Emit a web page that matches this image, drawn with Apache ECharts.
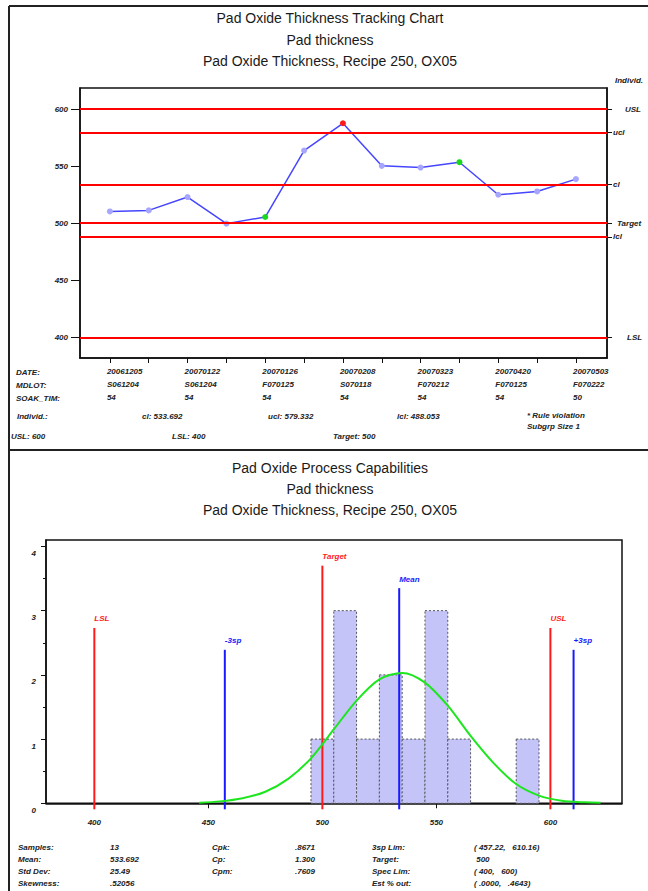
<!DOCTYPE html>
<html>
<head>
<meta charset="utf-8">
<title>Pad Oxide Thickness</title>
<script src="https://cdn.jsdelivr.net/npm/echarts@6/dist/echarts.min.js"></script>
<style>
  html, body { margin: 0; padding: 0; background: #fff; }
  #chart { width: 648px; height: 891px; }
</style>
</head>
<body>
<div id="chart"></div>
<script>
// ---- tracking chart (individuals) ----
var sampleNo = [1, 2, 3, 4, 5, 6, 7, 8, 9, 10, 11, 12, 13];
var thickness = [510.3, 511.2, 522.9, 499.6, 505.4, 563.6, 587.5, 550.2, 548.7, 553.4, 524.9, 527.8, 538.6];
var pointFlag = ['', '', '', '', 'zone', '', 'rule', '', '', 'zone', '', '', ''];
var labelSamples = [1, 3, 5, 7, 9, 11, 13];
var dates = ['20061205', '20070122', '20070126', '20070208', '20070323', '20070420', '20070503'];
var mdlots = ['S061204', 'S061204', 'F070125', 'S070118', 'F070212', 'F070125', 'F070222'];
var soakTimes = ['54', '54', '54', '54', '54', '54', '50'];
var limitNames = ['USL', 'ucl', 'cl', 'Target', 'lcl', 'LSL'];
var limitValues = [600, 579.332, 533.692, 500, 488.053, 400];
var trackTicks = [400, 450, 500, 550, 600];

// ---- capability histogram ----
var binStarts = [495, 505, 515, 525, 535, 545, 555, 565, 575, 585];
var binCounts = [1, 3, 1, 2, 1, 3, 1, 0, 0, 1];
var binWidth = 10;
var curveX = [446, 455, 465, 475, 485, 495, 505, 515, 525, 535, 545, 555, 565, 575, 585, 595, 605, 615, 622];
var curveY = [0.01, 0.03, 0.08, 0.18, 0.38, 0.70, 1.15, 1.60, 1.93, 2.03, 1.88, 1.52, 1.05, 0.63, 0.30, 0.12, 0.04, 0.015, 0.01];
var refNames = ['LSL', '-3sp', 'Target', 'Mean', 'USL', '+3sp'];
var refValues = [400, 457.22, 500, 533.692, 600, 610.16];
var refHeights = [2.73, 2.39, 3.70, 3.35, 2.73, 2.39];
var refKinds = ['spec', 'sigma', 'spec', 'sigma', 'spec', 'sigma'];
var histXTicks = [400, 450, 500, 550, 600];
var histYTicks = [0, 1, 2, 3, 4];
var histYMinor = [0.5, 1.5, 2.5, 3.5];

var statLabels1 = ['Samples:', 'Mean:', 'Std Dev:', 'Skewness:'];
var statValues1 = ['13', '533.692', '25.49', '.52056'];
var statLabels2 = ['Cpk:', 'Cp:', 'Cpm:', ''];
var statValues2 = ['.8671', '1.300', '.7609', ''];
var statLabels3 = ['3sp Lim:', 'Target:', 'Spec Lim:', 'Est % out:'];
var statValues3 = ['( 457.22,   610.16)', ' 500', '( 400,   600)', '( .0000,   .4643)'];

var SMALL = 'italic bold 8px "Liberation Sans Narrow", "Liberation Sans", Arial, sans-serif';
var TITLE = '14px "Liberation Sans", Arial, sans-serif';
var colorMap = { spec: '#ff1a1a', sigma: '#1a1aff' };
var flagColor = { '': '#a6a6ff', zone: '#18d818', rule: '#ff1a1a' };

function txt(x, y, s, extra) {
  return {
    type: 'text', x: x, y: y, silent: true,
    style: Object.assign({ text: s, fill: '#222', font: SMALL, verticalAlign: 'middle', align: 'left' }, extra || {})
  };
}
function hline(x1, x2, y, w) {
  return { type: 'line', silent: true, shape: { x1: x1, y1: y, x2: x2, y2: y }, style: { stroke: '#222', lineWidth: w } };
}
function vline(x, y1, y2, w) {
  return { type: 'line', silent: true, shape: { x1: x, y1: y1, x2: x, y2: y2 }, style: { stroke: '#222', lineWidth: w } };
}

var graphics = [
  hline(9, 648, 6, 2), vline(9, 6, 891, 2), hline(9, 648, 450, 2),
  txt(330, 18, 'Pad Oxide Thickness Tracking Chart', { font: TITLE, align: 'center', fill: '#1a1a1a' }),
  txt(330, 40, 'Pad thickness', { font: TITLE, align: 'center', fill: '#1a1a1a' }),
  txt(330, 61, 'Pad Oxide Thickness, Recipe 250, OX05', { font: TITLE, align: 'center', fill: '#1a1a1a' }),
  txt(615, 80, 'Individ.'),
  txt(16, 372, 'DATE:'), txt(16, 385, 'MDLOT:'), txt(16, 398, 'SOAK_TIM:'),
  txt(17, 416, 'Individ.:'),
  txt(142, 416, 'cl: ' + limitValues[2]),
  txt(268, 416, 'ucl: ' + limitValues[1]),
  txt(397, 416, 'lcl: ' + limitValues[4]),
  txt(527, 415, '* Rule violation'),
  txt(527, 426, 'Subgrp Size 1'),
  txt(11, 436, 'USL: ' + limitValues[0]),
  txt(172, 436, 'LSL: ' + limitValues[5]),
  txt(333, 436, 'Target: ' + limitValues[3]),
  txt(330, 468, 'Pad Oxide Process Capabilities', { font: TITLE, align: 'center', fill: '#1a1a1a' }),
  txt(330, 489, 'Pad thickness', { font: TITLE, align: 'center', fill: '#1a1a1a' }),
  txt(330, 510, 'Pad Oxide Thickness, Recipe 250, OX05', { font: TITLE, align: 'center', fill: '#1a1a1a' })
];
var statRowsY = [847, 859, 871, 883];
statRowsY.forEach(function (y, i) {
  graphics.push(txt(18, y, statLabels1[i]), txt(110, y, statValues1[i]),
    txt(212, y, statLabels2[i]), txt(295, y, statValues2[i]),
    txt(372, y, statLabels3[i]), txt(474, y, statValues3[i]));
});

var smallLabel = { fontSize: 8, fontStyle: 'italic', fontWeight: 'bold', color: '#222',
  fontFamily: '"Liberation Sans Narrow", "Liberation Sans", Arial, sans-serif' };
var limitLabelGap = [18, 6, 6, 10, 6, 20];

var chart = echarts.init(document.getElementById('chart'), null, { renderer: 'svg' });
chart.setOption({
  animation: false,
  graphic: graphics,
  grid: [
    { left: 80, top: 88, right: 41, height: 270, show: true, borderColor: '#111', borderWidth: 1.5 },
    { left: 46, top: 540, right: 26, height: 263.3, show: true, borderColor: '#111', borderWidth: 1.5 }
  ],
  xAxis: [
    {
      type: 'value', gridIndex: 0, min: 0.23, max: 13.8,
      splitLine: { show: false },
      axisLine: { lineStyle: { color: '#111', width: 1.5 } },
      axisTick: { customValues: sampleNo, length: 5, lineStyle: { color: '#111' } },
      axisLabel: Object.assign({}, smallLabel, {
        customValues: labelSamples, align: 'left', lineHeight: 13, margin: 7, padding: [0, 0, 0, -3],
        formatter: function (v) {
          var i = labelSamples.indexOf(v);
          return i < 0 ? '' : dates[i] + '\n' + mdlots[i] + '\n' + soakTimes[i];
        }
      })
    },
    {
      type: 'value', gridIndex: 1, min: 378.8, max: 631.4,
      splitLine: { show: false },
      axisLine: { lineStyle: { color: '#111', width: 1.5 } },
      axisTick: { customValues: histXTicks, length: 5, lineStyle: { color: '#111' } },
      axisLabel: Object.assign({}, smallLabel, { customValues: histXTicks, margin: 15 })
    }
  ],
  yAxis: [
    {
      type: 'value', gridIndex: 0, min: 381.9, max: 618.4,
      splitLine: { show: false },
      axisLine: { show: true, lineStyle: { color: '#111', width: 1.5 } },
      axisTick: { customValues: trackTicks, length: 9, lineStyle: { color: '#111' } },
      axisLabel: Object.assign({}, smallLabel, { customValues: trackTicks, margin: 12 })
    },
    {
      type: 'value', gridIndex: 0, position: 'right', min: 381.9, max: 618.4,
      splitLine: { show: false },
      axisLine: { show: true, lineStyle: { color: '#111', width: 1.5 } },
      axisTick: { customValues: limitValues, length: 5, lineStyle: { color: '#111' } },
      axisLabel: { show: false }
    },
    {
      type: 'value', gridIndex: 1, position: 'left', min: 0, max: 4.1,
      splitLine: { show: false },
      axisLine: { show: true, lineStyle: { color: '#111', width: 1.5 } },
      axisTick: { customValues: histYTicks, length: 5, lineStyle: { color: '#111' } },
      axisLabel: Object.assign({}, smallLabel, { customValues: histYTicks, margin: 10, verticalAlign: 'top', padding: [3, 0, 0, 0] })
    },
    {
      type: 'value', gridIndex: 1, position: 'left', offset: 0, min: 0, max: 4.1,
      splitLine: { show: false },
      axisLine: { show: false },
      axisTick: { show: true, customValues: histYMinor, length: 3, lineStyle: { color: '#111' } },
      axisLabel: { show: false }
    }
  ],
  series: [
    {
      type: 'line', xAxisIndex: 0, yAxisIndex: 0,
      data: thickness.map(function (v, i) {
        return { value: [sampleNo[i], v], itemStyle: { color: flagColor[pointFlag[i]] } };
      }),
      symbol: 'circle', symbolSize: 6,
      lineStyle: { color: '#4646ff', width: 1.5 },
      markLine: {
        silent: true, symbol: 'none',
        lineStyle: { color: '#ff0000', width: 2, type: 'solid' },
        label: Object.assign({}, smallLabel, { position: 'end' }),
        data: limitValues.map(function (v, i) {
          return { yAxis: v, label: { formatter: limitNames[i], distance: limitLabelGap[i] } };
        })
      },
      z: 3
    },
    {
      type: 'custom', xAxisIndex: 1, yAxisIndex: 2,
      data: binStarts.map(function (s, i) { return [s, s + binWidth, binCounts[i]]; }),
      renderItem: function (params, api) {
        var cnt = api.value(2);
        if (!cnt) return;
        var p0 = api.coord([api.value(0), cnt]);
        var p1 = api.coord([api.value(1), 0]);
        return {
          type: 'rect',
          shape: { x: p0[0], y: p0[1], width: p1[0] - p0[0], height: p1[1] - p0[1] },
          style: { fill: '#c4c4f8', stroke: '#555', lineWidth: 1, lineDash: [2, 2] }
        };
      },
      z: 1
    },
    {
      type: 'custom', xAxisIndex: 1, yAxisIndex: 2,
      data: refValues.map(function (v, i) { return [v, refHeights[i]]; }),
      renderItem: function (params, api) {
        var i = params.dataIndex;
        var top = api.coord([api.value(0), api.value(1)]);
        var base = api.coord([api.value(0), 0]);
        var c = colorMap[refKinds[i]];
        return {
          type: 'group',
          children: [
            { type: 'line', shape: { x1: base[0], y1: base[1] + 6, x2: top[0], y2: top[1] }, style: { stroke: c, lineWidth: 2 } },
            { type: 'text', x: top[0], y: top[1] - 9, style: { text: refNames[i], fill: c, font: SMALL, verticalAlign: 'middle', align: 'left' } }
          ]
        };
      },
      z: 2
    },
    {
      type: 'line', xAxisIndex: 1, yAxisIndex: 2,
      data: curveX.map(function (x, i) { return [x, curveY[i]]; }),
      smooth: 0.3, symbol: 'none',
      lineStyle: { color: '#1ee61e', width: 2 },
      z: 3
    }
  ]
});
</script>
</body>
</html>
